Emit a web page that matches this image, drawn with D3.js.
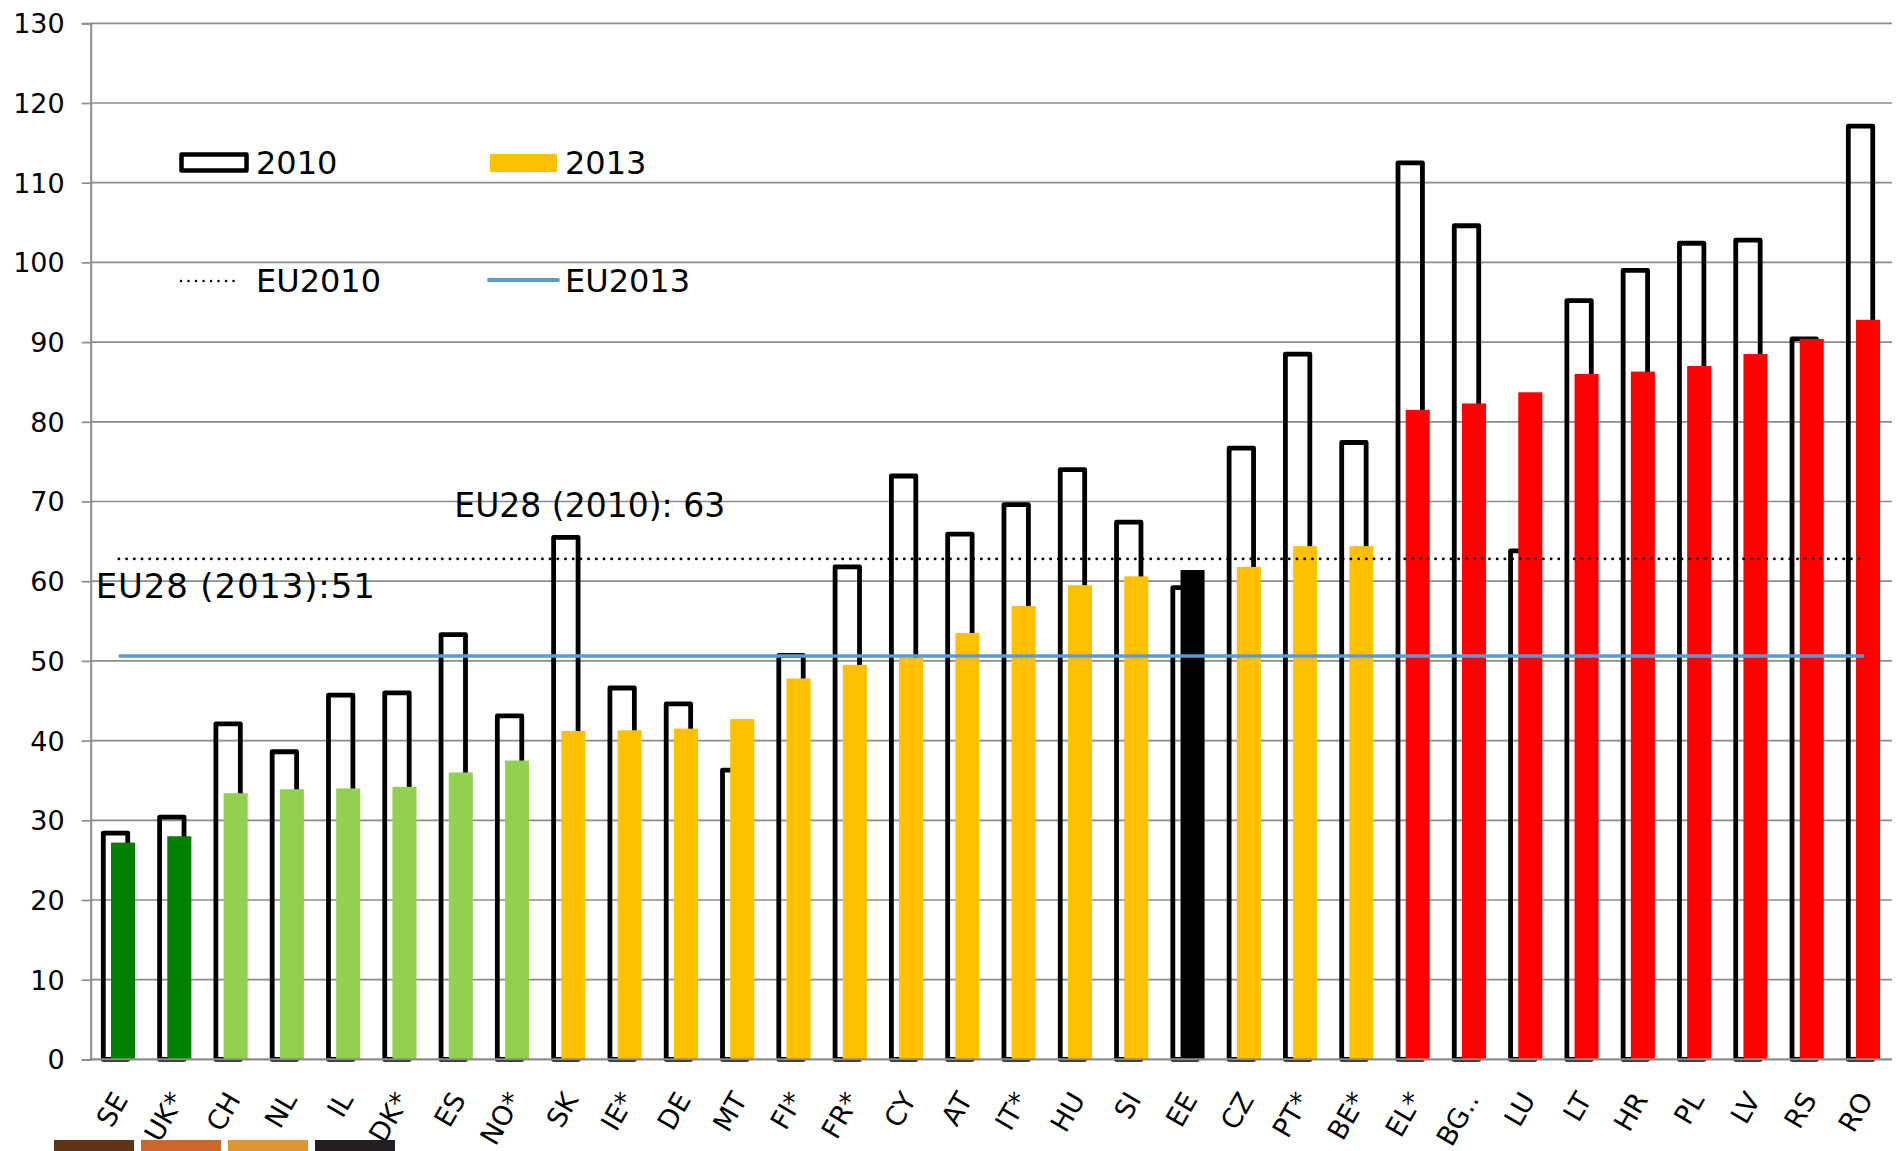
<!DOCTYPE html>
<html>
<head>
<meta charset="utf-8">
<script src="https://cdn.jsdelivr.net/npm/d3@7"></script>
<style>
  html, body { margin: 0; padding: 0; background: #fff; }
  svg { display: block; font-family: "DejaVu Sans", Verdana, sans-serif; }
</style>
</head>
<body>
<div id="chart"></div>
<script>
// values
const countries = ["SE","UK*","CH","NL","IL","DK*","ES","NO*","SK","IE*","DE","MT","FI*","FR*","CY","AT",
                   "IT*","HU","SI","EE","CZ","PT*","BE*","EL*","BG..","LU","LT","HR","PL","LV","RS","RO"];
const values2010 = [28.4,30.4,42.1,38.6,45.7,46.0,53.3,43.1,65.5,46.6,44.6,36.3,50.7,61.8,73.2,65.9,
                    69.6,74.0,67.4,59.2,76.7,88.5,77.4,112.5,104.6,63.8,95.2,99.0,102.4,102.8,90.4,117.1];
const values2013 = [27.2,28.0,33.4,33.9,34.0,34.2,36.0,37.5,41.2,41.3,41.5,42.7,47.8,49.5,50.4,53.5,
                    56.9,59.5,60.6,61.4,61.8,64.4,64.4,81.5,82.3,83.7,86.0,86.3,87.0,88.5,90.4,92.8];
// colour group of each country (index into groupColors)
const groups = [0,0,1,1,1,1,1,1,2,2,2,2,2,2,2,2,2,2,2,3,2,2,2,4,4,4,4,4,4,4,4,4];
const groupColors = ["#008000","#92d050","#ffc000","#000000","#ff0000"];

const eu2010 = 62.8;
const eu2013 = 50.6;
const yTicks = [0,10,20,30,40,50,60,70,80,90,100,110,120,130];
const annotationTexts = ["EU28 (2010): 63", "EU28 (2013):51"];
const legendLabels = ["2010", "2013", "EU2010", "EU2013"];
const stripColors = ["#603316","#cf6629","#e09530","#231f20"];

////////////////////////////////////////////////////////////////////////
// setup

let width = 1899, height = 1151;
let plotLeft = 90.7, plotRight = 1892, plotTop = 23.3, plotBottom = 1059.4;

let svg = d3.select("#chart").append("svg")
  .attr("width", width)
  .attr("height", height);

let x = d3.scaleBand().domain(countries).range([plotLeft, plotRight]).padding(0);
let y = d3.scaleLinear().domain([0,130]).range([plotBottom, plotTop]);
let step = x.step();

////////////////////////////////////////////////////////////////////////
// grid and axes

svg.append("g")
  .selectAll("line")
  .data(yTicks.slice(1))
  .enter()
  .append("line")
  .attr("x1", plotLeft).attr("x2", plotRight)
  .attr("y1", d => y(d)).attr("y2", d => y(d))
  .attr("stroke", "#8c8c8c")
  .attr("stroke-width", 1.7);

let yAxis = svg.append("g")
  .attr("transform", "translate(" + plotLeft + ",0)")
  .call(d3.axisLeft(y).tickValues(yTicks).tickSize(9).tickPadding(17));
yAxis.select(".domain").attr("stroke", "#8c8c8c").attr("stroke-width", 2);
yAxis.selectAll(".tick line").attr("stroke", "#8c8c8c").attr("stroke-width", 1.7);
yAxis.selectAll(".tick text")
  .attr("font-size", 27)
  .attr("font-family", "DejaVu Sans, Verdana, sans-serif")
  .attr("fill", "#000")
  .attr("dy", "0.35em");

////////////////////////////////////////////////////////////////////////
// bars: 2010 hollow, 2013 filled on top

svg.append("g")
  .selectAll("rect")
  .data(countries)
  .enter()
  .append("rect")
  .attr("x", d => x(d) + step * 0.224)
  .attr("width", step * 0.434)
  .attr("y", (d, i) => y(values2010[i]))
  .attr("height", (d, i) => y(0) - y(values2010[i]))
  .attr("fill", "none")
  .attr("stroke", "#000")
  .attr("stroke-width", 4.8)
  .attr("stroke-linejoin", "round");

svg.append("g")
  .selectAll("rect")
  .data(countries)
  .enter()
  .append("rect")
  .attr("x", d => x(d) + step * 0.361)
  .attr("width", step * 0.427)
  .attr("y", (d, i) => y(values2013[i]))
  .attr("height", (d, i) => y(0) - y(values2013[i]))
  .attr("fill", (d, i) => groupColors[groups[i]]);

// x axis line
svg.append("line")
  .attr("x1", plotLeft - 1).attr("x2", plotRight)
  .attr("y1", plotBottom).attr("y2", plotBottom)
  .attr("stroke", "#8c8c8c")
  .attr("stroke-width", 2.2);

////////////////////////////////////////////////////////////////////////
// EU average lines

let line = d3.line()
  .x(d => x(d) + step / 2);

svg.append("path")
  .datum(countries)
  .attr("d", line.y(() => y(eu2010)))
  .attr("fill", "none")
  .attr("stroke", "#000")
  .attr("stroke-width", 2.8)
  .attr("stroke-linecap", "round")
  .attr("stroke-dasharray", "0.1 7.6");

svg.append("path")
  .datum(countries)
  .attr("d", line.y(() => y(eu2013)))
  .attr("fill", "none")
  .attr("stroke", "#5b9bd5")
  .attr("stroke-width", 3.5);

// the two text boxes
svg.append("text")
  .attr("x", plotLeft + step * 6.46)
  .attr("y", y(68.1))
  .attr("font-size", 33)
  .text(annotationTexts[0]);
svg.append("text")
  .attr("x", plotLeft + step * 0.09)
  .attr("y", y(57.9))
  .attr("font-size", 34)
  .attr("textLength", 279)
  .text(annotationTexts[1]);

////////////////////////////////////////////////////////////////////////
// category labels

svg.append("g")
  .selectAll("text")
  .data(countries)
  .enter()
  .append("text")
  .attr("transform", d => "translate(" + (x(d) + step / 2 + 10) + "," + (plotBottom + 40) + ") rotate(-60)")
  .attr("text-anchor", "end")
  .attr("font-size", 27)
  .text(d => d);

////////////////////////////////////////////////////////////////////////
// legend

let legend = svg.append("g");

legend.append("rect")
  .attr("x", 181.5).attr("y", 154.5)
  .attr("width", 65).attr("height", 16)
  .attr("fill", "none")
  .attr("stroke", "#000")
  .attr("stroke-width", 4.5)
  .attr("stroke-linejoin", "round");
legend.append("rect")
  .attr("x", 490).attr("y", 154)
  .attr("width", 67).attr("height", 18)
  .attr("fill", groupColors[2]);
legend.append("line")
  .attr("x1", 181).attr("x2", 241)
  .attr("y1", 281).attr("y2", 281)
  .attr("stroke", "#000")
  .attr("stroke-width", 2.4)
  .attr("stroke-linecap", "round")
  .attr("stroke-dasharray", "0.1 7.4");
legend.append("line")
  .attr("x1", 489).attr("x2", 558)
  .attr("y1", 280).attr("y2", 280)
  .attr("stroke", "#5b9bd5")
  .attr("stroke-width", 4)
  .attr("stroke-linecap", "round");

let legendX = [256, 565, 256, 565];
let legendY = [174, 174, 292, 292];
legend.selectAll("text")
  .data(legendLabels)
  .enter()
  .append("text")
  .attr("x", (d, i) => legendX[i])
  .attr("y", (d, i) => legendY[i])
  .attr("font-size", 32)
  .text(d => d);

////////////////////////////////////////////////////////////////////////
// strip of coloured boxes cut by the bottom edge

svg.append("g")
  .selectAll("rect")
  .data(stripColors)
  .enter()
  .append("rect")
  .attr("x", (d, i) => 54 + i * 87)
  .attr("y", 1140)
  .attr("width", 80)
  .attr("height", 20)
  .attr("fill", d => d);
</script>
</body>
</html>
